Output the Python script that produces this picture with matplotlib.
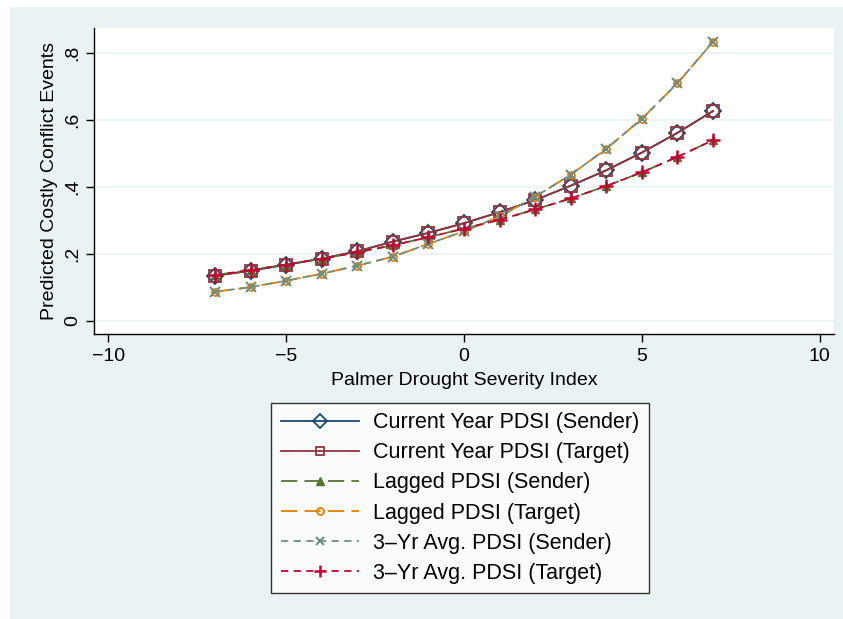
import matplotlib.pyplot as plt
from matplotlib.patches import Rectangle

plt.rcParams['font.family'] = ['Liberation Sans', 'DejaVu Sans']

# PDSI values at which predictions are evaluated
pdsi = [-7, -6, -5, -4, -3, -2, -1, 0, 1, 2, 3, 4, 5, 6, 7]

# predicted costly conflict events by model
cur_sender = [0.135, 0.150, 0.168, 0.186, 0.208, 0.237, 0.263, 0.292, 0.325, 0.361, 0.404, 0.450, 0.503, 0.562, 0.627]
cur_target = [0.135, 0.150, 0.168, 0.186, 0.208, 0.237, 0.263, 0.292, 0.325, 0.361, 0.404, 0.450, 0.503, 0.562, 0.627]
lag_sender = [0.137, 0.152, 0.168, 0.186, 0.205, 0.226, 0.250, 0.276, 0.302, 0.333, 0.366, 0.403, 0.444, 0.490, 0.540]
lag_target = [0.087, 0.101, 0.120, 0.141, 0.165, 0.192, 0.230, 0.268, 0.312, 0.371, 0.437, 0.514, 0.604, 0.710, 0.834]
avg_sender = [0.087, 0.101, 0.120, 0.141, 0.165, 0.192, 0.230, 0.268, 0.312, 0.371, 0.437, 0.514, 0.604, 0.710, 0.834]
avg_target = [0.137, 0.152, 0.168, 0.186, 0.205, 0.226, 0.250, 0.276, 0.302, 0.333, 0.366, 0.403, 0.444, 0.490, 0.540]

labels = ['Current Year PDSI (Sender)', 'Current Year PDSI (Target)',
          'Lagged PDSI (Sender)', 'Lagged PDSI (Target)',
          '3\u2013Yr Avg. PDSI (Sender)', '3\u2013Yr Avg. PDSI (Target)']

bg = '#eaf2f3'

fig = plt.figure(figsize=(8.43, 6.19), dpi=100, facecolor='white')
fig.patches.append(Rectangle((10 / 843, 0), 1, 1 - 7 / 619, transform=fig.transFigure,
                             facecolor=bg, edgecolor='none', zorder=-10))

ax = fig.add_axes([94 / 843, 1 - 334 / 619, (834 - 94) / 843, (334 - 28) / 619])
ax.set_facecolor('white')

lw = 1.3
ax.plot(pdsi, cur_sender, color='#1a476f', lw=lw, marker='D', ms=8, mfc='none', mew=1.3, label=labels[0])
ax.plot(pdsi, cur_target, color='#90353b', lw=lw, marker='s', ms=8, mfc='none', mew=1.3, label=labels[1])
ax.plot(pdsi, lag_sender, color='#55752f', lw=lw, marker='^', ms=6, dashes=(9, 4), label=labels[2])
ax.plot(pdsi, lag_target, color='#e37e00', lw=lw, marker='o', ms=5, mfc='none', mew=1.3, dashes=(9, 4), label=labels[3])
ax.plot(pdsi, avg_sender, color='#6e8e84', lw=lw, marker='x', ms=7, mew=1.5, dashes=(4, 3), label=labels[4])
ax.plot(pdsi, avg_target, color='#c10534', lw=lw, marker='+', ms=10, mew=1.8, dashes=(4, 3), label=labels[5])

ax.set_xlim(-10.4, 10.4)
ax.set_ylim(-0.039, 0.875)
ax.set_xticks([-10, -5, 0, 5, 10])
ax.set_xticklabels(['\u221210', '\u22125', '0', '5', '10'])
ax.set_yticks([0, 0.2, 0.4, 0.6, 0.8])
ax.set_yticklabels(['0', '.2', '.4', '.6', '.8'], rotation=90, va='center')
ax.tick_params(labelsize=14, length=6, width=1, color='black', pad=3)
ax.tick_params(axis='x', pad=4)
ax.grid(axis='y', color=bg, lw=1.2)
ax.set_axisbelow(True)
for s in ['top', 'right']:
    ax.spines[s].set_visible(False)
for s in ['left', 'bottom']:
    ax.spines[s].set_color('black')
    ax.spines[s].set_linewidth(1)

ax.set_xlabel('Palmer Drought Severity Index', fontsize=14, labelpad=5)
ax.set_ylabel('Predicted Costly Conflict Events', fontsize=14, labelpad=5)

leg = fig.legend(loc='center', bbox_to_anchor=(460 / 843, 1 - 498 / 619), ncol=1,
                 fontsize=15.5, frameon=True, fancybox=False, edgecolor='black',
                 handlelength=3.6, handletextpad=0.65, labelspacing=0.42, borderpad=0.45,
                 borderaxespad=0)
leg.get_frame().set_linewidth(1)
# smaller symbols in the key
for h, ms in zip(leg.legend_handles, [7, 6, 6, 5, 6, 8]):
    h.set_markersize(ms)

fig.savefig('out.png', dpi=100, facecolor='white')
